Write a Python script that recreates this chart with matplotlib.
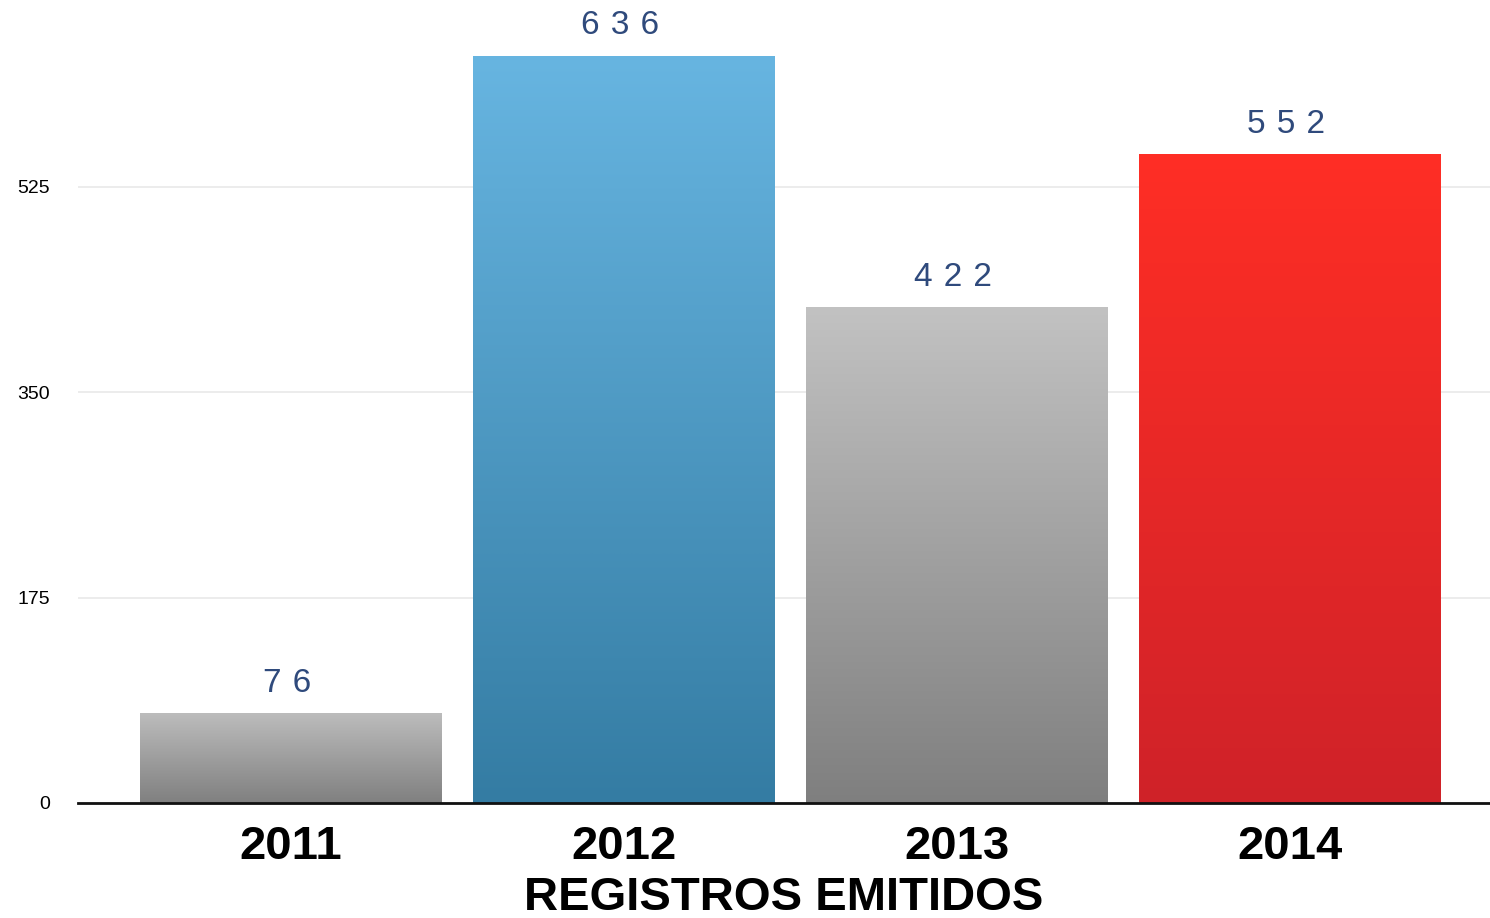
import matplotlib
matplotlib.use("Agg")
import matplotlib.pyplot as plt
import numpy as np
from matplotlib.colors import LinearSegmentedColormap

anos = ["2011", "2012", "2013", "2014"]
registros = [76, 636, 422, 552]
yticks = [0, 175, 350, 525]
# gradient (top, bottom) per bar
cores = [("#bcbcbc", "#808080"), ("#67b5e1", "#347ca3"),
         ("#c2c2c2", "#7f7f7f"), ("#ff2e25", "#cf2229")]

plt.rcParams["font.family"] = ["Liberation Sans", "DejaVu Sans"]

fig = plt.figure(figsize=(14.9, 9.18), dpi=100)
ax = fig.add_axes([0.0523, 0.1253, 0.9477, 0.8747])

x = np.arange(len(anos))
barras = ax.bar(x, registros, width=0.905, color="none", zorder=2)

grad = np.linspace(1, 0, 256).reshape(-1, 1)
for b, (c_top, c_bot) in zip(barras, cores):
    cmap = LinearSegmentedColormap.from_list("g", [c_bot, c_top])
    x0, y0, w, h = b.get_x(), b.get_y(), b.get_width(), b.get_height()
    ax.imshow(grad, cmap=cmap, aspect="auto", extent=(x0, x0 + w, y0, y0 + h),
              origin="upper", zorder=2, interpolation="bicubic")

for b, v in zip(barras, registros):
    ax.annotate("\u2004".join(str(v)), (b.get_x() + b.get_width() / 2, b.get_height()),
                xytext=(-3, 22), textcoords="offset points", ha="center", va="center",
                fontsize=24, color="#2f4a7c", zorder=3)

ax.set_xlim(-0.64, 3.6)
ax.set_ylim(0, 684)
ax.set_yticks(yticks)
ax.set_yticklabels([str(t) for t in yticks], fontsize=14)
ax.tick_params(axis="y", length=0, pad=20)
ax.set_xticks(x)
ax.set_xticklabels(anos, fontsize=34, fontweight="bold")
ax.tick_params(axis="x", length=0, pad=16)
ax.set_xlabel("REGISTROS EMITIDOS", fontsize=34, fontweight="bold", labelpad=5)

ax.grid(axis="y", color="#e9e9e9", linewidth=1.2, zorder=0)
ax.set_axisbelow(True)
for s in ["top", "right", "left"]:
    ax.spines[s].set_visible(False)
ax.spines["bottom"].set_linewidth(2)
ax.spines["bottom"].set_color("#111111")
ax.spines["bottom"].set_zorder(4)

fig.savefig("out.png", dpi=100)
